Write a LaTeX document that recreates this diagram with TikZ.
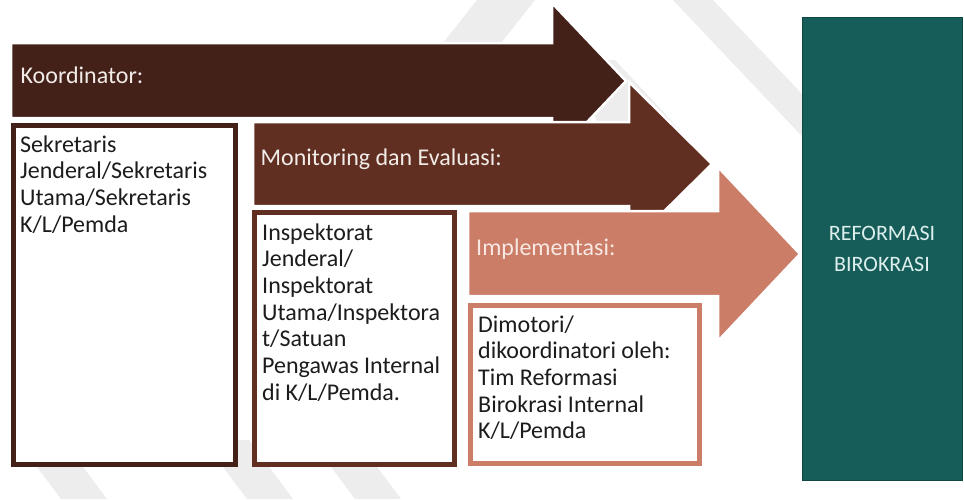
\documentclass[tikz,border=0pt]{standalone}
\usepackage{fontspec}
\setmainfont{Carlito}
\definecolor{arrA}{HTML}{432018}
\definecolor{arrB}{HTML}{612F21}
\definecolor{arrC}{HTML}{CB7D68}
\definecolor{tealbox}{HTML}{165D59}
\definecolor{tealline}{HTML}{0E4845}
\definecolor{lbltxt}{HTML}{F2ECE8}
\definecolor{lbltxtC}{HTML}{F8E8E2}
\definecolor{rbtxt}{HTML}{DDEFEC}
\definecolor{wmgray}{HTML}{EDEDED}
\definecolor{boxtext}{HTML}{1C1C1C}
\newcommand\stacklines[2]{\vtop{\baselineskip=#1\relax\halign{##\hfil\cr#2\crcr}}}
\tikzset{
  arrowshape/.style={draw=white,line width=2.5pt,line join=miter},
  framebox/.style={fill=white,line width=5pt},
  lbl/.style={anchor=base west,inner sep=0pt,font=\fontsize{24}{28}\selectfont,text=lbltxt},
  boxtxt/.style={anchor=base west,inner sep=0pt,font=\fontsize{24}{26.7}\selectfont,text=boxtext},
  wm/.style={fill=wmgray,draw=none}
}
\begin{document}
\begin{tikzpicture}[x=1pt,y=-1pt]
\useasboundingbox (0,0) rectangle (964,499);
\fill[white] (0,0) rectangle (964,499);
% watermark bands
\begin{scope}
\clip (0,0) rectangle (964,499);
\fill[wm] (477,0) -- (535,0) -- (501,43) -- (443,43) -- cycle;
\fill[wm] (673,0) -- (713,0) -- (855,150) -- (815,150) -- cycle;
\fill[wm] (575,60) -- (615,60) -- (680,130) -- (640,130) -- (600,130) -- cycle;
\fill[wm] (17,440) -- (63,440) -- (107,499) -- (61,499) -- cycle;
\fill[wm] (203,440) -- (249,440) -- (293,499) -- (247,499) -- cycle;
\fill[wm] (311,440) -- (357,440) -- (401,499) -- (355,499) -- cycle;
\end{scope}
% arrow 1
\filldraw[arrowshape,fill=arrA] (11,43) -- (552,43) -- (552,3) -- (626,81) -- (552,159) -- (552,118) -- (11,118) -- cycle;
\node[lbl] (koord) at (20.5,83) {Koordinator:};
% box 1
\draw[framebox,draw=arrA] (13.5,125.5) rectangle (235.5,464.5);
\node[boxtxt] (t1) at (20,152) {\stacklines{26.7pt}{Sekretaris\cr Jenderal/Sekretaris\cr Utama/Sekretaris\cr K/L/Pemda}};
% arrow 2
\filldraw[arrowshape,fill=arrB] (253,122) -- (629,122) -- (629,82) -- (712,164) -- (629,246) -- (629,206) -- (253,206) -- cycle;
\node[lbl] (monev) at (260.5,165) {Monitoring dan Evaluasi:};
% box 2
\draw[framebox,draw=arrB] (254.5,212.5) rectangle (454.5,464.5);
\node[boxtxt] (t2) at (262,240) {\stacklines{26.7pt}{Inspektorat\cr Jenderal/\cr Inspektorat\cr Utama/Inspektora\cr t/Satuan\cr Pengawas Internal\cr di K/L/Pemda.}};
% arrow 3
\filldraw[arrowshape,fill=arrC] (468,211) -- (718,211) -- (718,167) -- (800,254) -- (718,341) -- (718,296) -- (468,296) -- cycle;
\node[lbl,text=lbltxtC] (impl) at (476,255) {Implementasi:};
% box 3
\draw[framebox,draw=arrC] (470.5,305.5) rectangle (699.5,463.5);
\node[boxtxt] (t3) at (478,332) {\stacklines{26.7pt}{Dimotori/\cr dikoordinatori oleh:\cr Tim Reformasi\cr Birokrasi Internal\cr K/L/Pemda}};
% target
\node[fill=tealbox,draw=tealline,line width=1pt,minimum width=160pt,minimum height=463pt,inner sep=0pt,align=center,text=rbtxt,font=\fontsize{22}{31}\selectfont] (rb) at (882,248.5) {REFORMASI\\BIROKRASI};
\end{tikzpicture}
\end{document}
